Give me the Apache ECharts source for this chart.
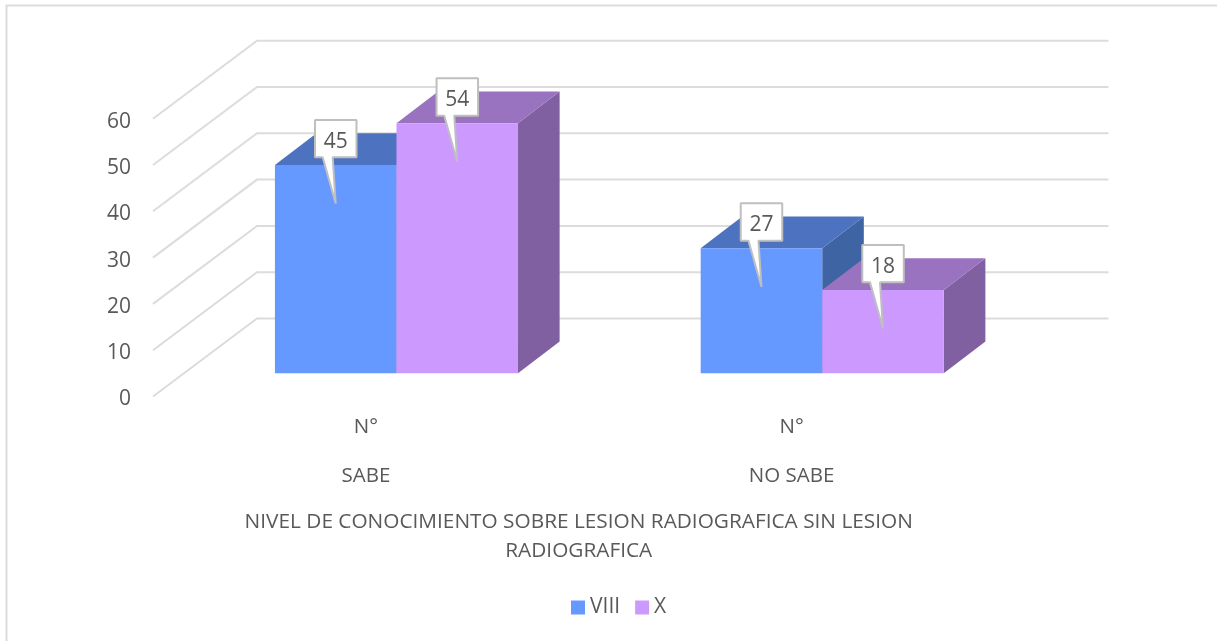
<!DOCTYPE html>
<html>
<head>
<meta charset="utf-8">
<style>html,body{margin:0;padding:0;background:#fff}#c{width:1217px;height:641px}</style>
<script src="https://cdn.jsdelivr.net/npm/echarts@6/dist/echarts.min.js"></script>
</head>
<body>
<div id="c"></div>
<script>
const categories = ['SABE', 'NO SABE'];
const subLabel = 'N°';
const seriesNames = ['VIII', 'X'];
const valuesVIII = [45, 27];
const valuesX = [54, 18];
const yTicks = [0, 10, 20, 30, 40, 50, 60];
const axisTitle = 'NIVEL DE CONOCIMIENTO SOBRE LESION RADIOGRAFICA SIN LESION\nRADIOGRAFICA';

const FONT = '"Open Sans", sans-serif';
const TEXT = '#595959';
const palette = [
  { front: '#6699FF', top: '#4D73C0', side: '#3F64A3' },
  { front: '#CC99FF', top: '#9A73C0', side: '#8060A0' }
];
// Perspective offsets in pixels
const WALL = { dx: 104, dy: -78 };
const BAR_BASE = { dx: 30.6, dy: -23.2 };
const BAR_DEPTH = { dx: 41.6, dy: -31.7 };
const BAR_BAND = 0.2855;

const chart = echarts.init(document.getElementById('c'));

function wallItem(params, api) {
  const r = params.coordSys;
  const y = api.coord([0, api.value(0)])[1];
  return {
    type: 'polyline', silent: true,
    shape: { points: [[r.x, y], [r.x + WALL.dx, y + WALL.dy], [r.x + r.width + WALL.dx, y + WALL.dy]] },
    style: { stroke: '#DCDCDC', lineWidth: 2, fill: null }
  };
}

function barGeom(api, idx) {
  const p = api.coord([api.value(0), api.value(1)]);
  const b = api.coord([api.value(0), 0]);
  const w = api.size([1, 0])[0] * BAR_BAND;
  const xl = p[0] + BAR_BASE.dx + (idx === 0 ? -w : 0);
  return { xl, xr: xl + w, top: p[1] + BAR_BASE.dy, base: b[1] + BAR_BASE.dy };
}

function barItem(idx) {
  return function (params, api) {
    const g = barGeom(api, idx), c = palette[idx], dx = BAR_DEPTH.dx, dy = BAR_DEPTH.dy;
    return {
      type: 'group',
      children: [
        { type: 'polygon', shape: { points: [[g.xr, g.top], [g.xr + dx, g.top + dy], [g.xr + dx, g.base + dy], [g.xr, g.base]] }, style: { fill: c.side } },
        { type: 'polygon', shape: { points: [[g.xl, g.top], [g.xl + dx, g.top + dy], [g.xr + dx, g.top + dy], [g.xr, g.top]] }, style: { fill: c.top } },
        { type: 'rect', shape: { x: g.xl, y: g.top, width: g.xr - g.xl, height: g.base - g.top }, style: { fill: c.front } }
      ]
    };
  };
}

function calloutItem(idx) {
  return function (params, api) {
    const g = barGeom(api, idx);
    const tx = (g.xl + g.xr) / 2, ty = g.top + 38.5;
    const x0 = tx - 20.7, x1 = tx + 20.8, y0 = g.top - 45, y1 = g.top - 7.6;
    return {
      type: 'group',
      children: [
        { type: 'polygon',
          shape: { points: [[x0, y0], [x1, y0], [x1, y1], [tx - 3, y1], [tx, ty], [tx - 13, y1], [x0, y1]] },
          style: { fill: '#fff', stroke: '#BFBFBF', lineWidth: 2, lineJoin: 'bevel' } },
        { type: 'text',
          style: { x: (x0 + x1) / 2, y: (y0 + y1) / 2 + 3, text: String(api.value(1)), textAlign: 'center', textVerticalAlign: 'middle', font: '21px ' + FONT, fill: TEXT } }
      ]
    };
  };
}

const rows = arr => arr.map((v, i) => [i, v]);
const dataSets = [valuesVIII, valuesX];

chart.setOption({
  animation: false,
  backgroundColor: '#fff',
  graphic: [
    { type: 'polyline', silent: true, shape: { points: [[6.5, 641], [6.5, 5.5], [1217, 5.5]] }, style: { stroke: '#DCDCDC', lineWidth: 2, fill: null } }
  ],
  legend: {
    data: seriesNames, left: 566, top: 592, icon: 'rect', itemWidth: 14, itemHeight: 14, itemGap: 15, selectedMode: false,
    textStyle: { fontFamily: FONT, fontSize: 21, color: TEXT }
  },
  grid: { left: 153, top: 118.7, width: 851.5, height: 277.8, containLabel: false },
  xAxis: {
    type: 'category', data: categories,
    axisLine: { show: false }, axisTick: { show: false }, splitLine: { show: false },
    axisLabel: { margin: 18, lineHeight: 24.5, fontFamily: FONT, fontSize: 20.5, color: TEXT, formatter: v => subLabel + '\n\n' + v },
    name: axisTitle, nameLocation: 'middle', nameGap: 111, nameMoveOverlap: false,
    nameTextStyle: { fontFamily: FONT, fontSize: 20.8, lineHeight: 29, color: TEXT }
  },
  yAxis: {
    type: 'value', min: 0, max: 60, interval: 10,
    axisLine: { show: false }, axisTick: { show: false }, splitLine: { show: false },
    axisLabel: {
      margin: 22, color: TEXT, formatter: '{t|{value}}',
      rich: { t: { fontFamily: FONT, fontSize: 21, color: TEXT, padding: [6, 0, 0, 0] } }
    }
  },
  series: [
    { type: 'custom', name: 'walls', z: 1, silent: true, encode: { y: 0 }, data: yTicks.map(v => [v]), renderItem: wallItem },
    ...seriesNames.map((n, i) => ({
      type: 'custom', name: n, z: 2 + i, encode: { x: 0, y: 1 }, itemStyle: { color: palette[i].front },
      data: rows(dataSets[i]), renderItem: barItem(i)
    })),
    ...seriesNames.map((n, i) => ({
      type: 'custom', name: n, z: 5 + i, encode: { x: 0, y: 1 }, itemStyle: { color: palette[i].front },
      data: rows(dataSets[i]), renderItem: calloutItem(i)
    }))
  ]
});
</script>
</body>
</html>
